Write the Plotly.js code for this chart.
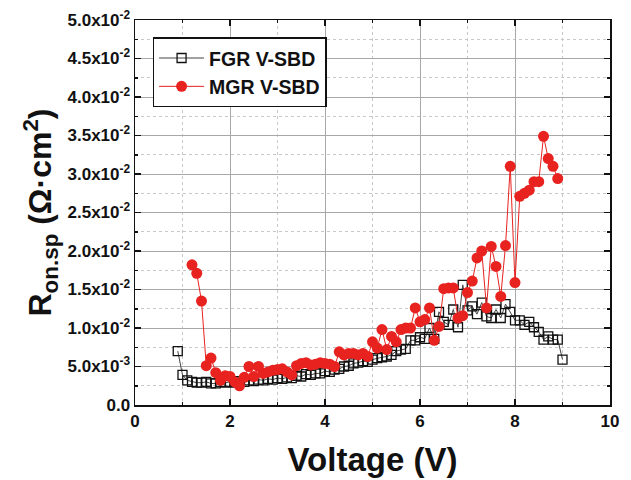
<!DOCTYPE html>
<html>
<head>
<meta charset="utf-8">
<script src="https://cdn.plot.ly/plotly-3.0.1.min.js"></script>
<style>html,body{margin:0;padding:0;background:#fff;}#chart{width:631px;height:480px;}</style>
</head>
<body>
<div id="chart"></div>
<script>
const fgrV = [0.9,1.0,1.1,1.2,1.3,1.4,1.5,1.6,1.7,1.8,1.9,2.0,2.1,2.2,2.3,2.4,2.5,2.6,2.7,2.8,2.9,3.0,3.1,3.2,3.3,3.4,3.5,3.6,3.7,3.8,3.9,4.0,4.1,4.2,4.3,4.4,4.5,4.6,4.7,4.8,4.9,5.0,5.1,5.2,5.3,5.4,5.5,5.6,5.7,5.8,5.9,6.0,6.1,6.2,6.3,6.4,6.5,6.6,6.7,6.8,6.9,7.0,7.1,7.2,7.3,7.4,7.5,7.6,7.7,7.8,7.9,8.0,8.1,8.2,8.3,8.4,8.5,8.6,8.7,8.8,8.9,9.0];
const fgrR = [0.0070,0.0039,0.0032,0.0030,0.0029,0.0029,0.0030,0.0028,0.0028,0.0030,0.0029,0.0030,0.0029,0.0031,0.0030,0.0032,0.0031,0.0033,0.0032,0.0034,0.0033,0.0035,0.0034,0.0036,0.0035,0.0038,0.0037,0.0040,0.0039,0.0041,0.0041,0.0044,0.0043,0.0046,0.0047,0.0050,0.0051,0.0054,0.0055,0.0057,0.0056,0.0059,0.0061,0.0062,0.0063,0.0065,0.0070,0.0072,0.0073,0.0084,0.0084,0.0088,0.0086,0.0100,0.0086,0.0121,0.0108,0.0104,0.0124,0.0101,0.0156,0.0123,0.0128,0.0118,0.0133,0.0115,0.0113,0.0124,0.0113,0.0131,0.0121,0.0110,0.0110,0.0104,0.0108,0.0101,0.0095,0.0085,0.0089,0.0085,0.0085,0.0059];
const mgrV = [1.2,1.3,1.4,1.5,1.6,1.7,1.8,1.9,2.0,2.1,2.2,2.3,2.4,2.5,2.6,2.7,2.8,2.9,3.0,3.1,3.2,3.3,3.4,3.5,3.6,3.7,3.8,3.9,4.0,4.1,4.2,4.3,4.4,4.5,4.6,4.7,4.8,4.9,5.0,5.1,5.2,5.3,5.4,5.5,5.6,5.7,5.8,5.9,6.0,6.1,6.2,6.3,6.4,6.5,6.6,6.7,6.8,6.9,7.0,7.1,7.2,7.3,7.4,7.5,7.6,7.7,7.8,7.9,8.0,8.1,8.2,8.3,8.4,8.5,8.6,8.7,8.8,8.9];
const mgrR = [0.0182,0.0171,0.0135,0.0051,0.0061,0.0042,0.0032,0.0038,0.0037,0.0030,0.0025,0.0036,0.0050,0.0037,0.0050,0.0041,0.0043,0.0045,0.0046,0.0047,0.0043,0.0039,0.0051,0.0054,0.0055,0.0052,0.0053,0.0055,0.0054,0.0053,0.0050,0.0069,0.0065,0.0067,0.0067,0.0065,0.0067,0.0063,0.0082,0.0074,0.0098,0.0072,0.0089,0.0082,0.0098,0.0100,0.0100,0.0126,0.0108,0.0111,0.0126,0.0084,0.0102,0.0151,0.0152,0.0152,0.0113,0.0116,0.0146,0.0161,0.0191,0.0200,0.0126,0.0206,0.0180,0.0141,0.0207,0.0310,0.0159,0.0271,0.0275,0.0279,0.0290,0.0290,0.0349,0.0320,0.0310,0.0294];
const yTickVals = [0,0.005,0.01,0.015,0.02,0.025,0.03,0.035,0.04,0.045,0.05];
const yTickText = ['0.0','5.0x10<sup>-3</sup>','1.0x10<sup>-2</sup>','1.5x10<sup>-2</sup>','2.0x10<sup>-2</sup>','2.5x10<sup>-2</sup>','3.0x10<sup>-2</sup>','3.5x10<sup>-2</sup>','4.0x10<sup>-2</sup>','4.5x10<sup>-2</sup>','5.0x10<sup>-2</sup>'];
const seriesNames = ['FGR V-SBD','MGR V-SBD'];

const F = 'Arial, "Liberation Sans", sans-serif';
const traces = [
  {x: fgrV, y: fgrR, name: seriesNames[0], type: 'scatter', mode: 'lines+markers',
   line: {color: '#444', width: 1},
   marker: {symbol: 'square-open', size: 9, color: '#111', line: {width: 1.3, color: '#111'}}},
  {x: mgrV, y: mgrR, name: seriesNames[1], type: 'scatter', mode: 'lines+markers',
   line: {color: '#e8221f', width: 1},
   marker: {symbol: 'circle', size: 11, color: '#e8221f'}}
];
const layout = {
  width: 631, height: 480,
  margin: {l: 135, r: 21, t: 20, b: 75},
  paper_bgcolor: '#fff', plot_bgcolor: '#fff',
  font: {family: F, color: '#111', weight: 'bold'},
  showlegend: true,
  legend: {x: 0.037, y: 0.955, xanchor: 'left', yanchor: 'top', bgcolor: '#fff',
    bordercolor: '#111', borderwidth: 1.5, font: {size: 19.5, family: F, weight: 'bold', color: '#111'},
    tracegroupgap: 0, itemwidth: 45},
  xaxis: {range: [0, 10], tickvals: [0,2,4,6,8,10], ticks: 'inside', ticklen: 6, tickwidth: 1.5,
    tickcolor: '#111', showline: true, linecolor: '#111', linewidth: 1.5, mirror: 'ticks',
    showgrid: true, gridcolor: '#a8a8a8', gridwidth: 1, zeroline: false,
    tickfont: {size: 17, family: F, weight: 'bold'},
    minor: {dtick: 1, ticks: 'inside', ticklen: 3, tickcolor: '#111', showgrid: true, gridcolor: '#c8c8c8', griddash: 'dot', gridwidth: 1},
    title: {text: 'Voltage (V)', font: {size: 33, family: F, weight: 'bold'}, standoff: 18}},
  yaxis: {range: [0, 0.05], tickvals: yTickVals, ticktext: yTickText, ticks: 'inside', ticklen: 6, tickwidth: 1.5,
    tickcolor: '#111', showline: true, linecolor: '#111', linewidth: 1.5, mirror: 'ticks',
    showgrid: true, gridcolor: '#a8a8a8', gridwidth: 1, zeroline: false,
    tickfont: {size: 17, family: F, weight: 'bold'},
    minor: {dtick: 0.0025, ticks: 'inside', ticklen: 3, tickcolor: '#111', showgrid: true, gridcolor: '#c8c8c8', griddash: 'dot', gridwidth: 1},
    title: {text: 'R<sub>on.sp</sub> (Ω·cm<sup>2</sup>)', font: {size: 32, family: F, weight: 'bold'}, standoff: 6}}
};
Plotly.newPlot('chart', traces, layout, {displayModeBar: false, staticPlot: true});
</script>
</body>
</html>
